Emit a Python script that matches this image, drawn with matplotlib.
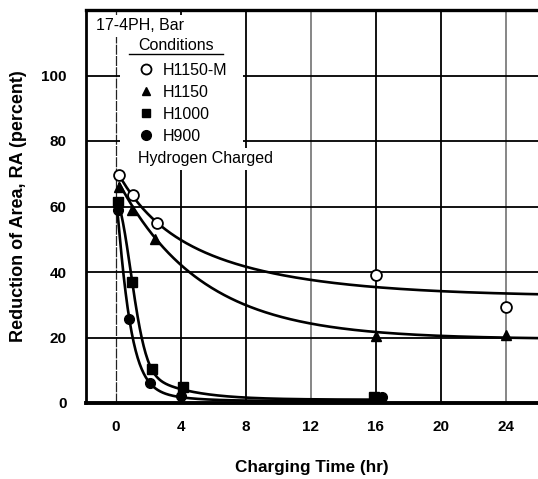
import numpy as np
import matplotlib
matplotlib.use("Agg")
import matplotlib.pyplot as plt
from matplotlib.lines import Line2D
from matplotlib.patches import Rectangle

# --- measured data -------------------------------------------------------
t_h1150m = [0.2, 1.05, 2.55, 16.0, 24.0]
ra_h1150m = [69.5, 63.4, 55.0, 39.0, 29.2]

t_h1150 = [0.2, 1.0, 2.4, 16.0, 24.0]
ra_h1150 = [66.0, 58.8, 50.2, 20.4, 20.7]

t_h1000 = [0.1, 1.0, 2.2, 4.1, 15.9]
ra_h1000 = [61.4, 36.8, 10.3, 4.8, 1.9]

t_h900 = [0.1, 0.82, 2.1, 4.0, 16.4]
ra_h900 = [58.8, 25.6, 6.0, 2.0, 1.9]

labels = ["H1150-M", "H1150", "H1000", "H900"]

# trend-curve parameters: floor, stretched term (amp, scale, power), tail (amp, rate), fast tail (amp, rate)
fit_h1150m = dict(a=32.5, b=0.0, s=1.0, p=1.0, c=27.1, k=0.14, d=11.7, m=0.47)
fit_h1150 = dict(a=19.5, b=0.0, s=1.0, p=1.0, c=49.4, k=0.195, d=0.0, m=1.0)
fit_h1000 = dict(a=1.0, b=45.2, s=1.306, p=2.0, c=16.0, k=0.40, d=0.0, m=1.0)
fit_h900 = dict(a=0.6, b=54.0, s=0.814, p=1.17, c=8.0, k=0.50, d=0.0, m=1.0)

x_ticks = [0, 4, 8, 12, 16, 20, 24]
y_ticks = [0, 20, 40, 60, 80, 100]


def decay(x, a, b, s, p, c, k, d, m):
    return (a + b * np.exp(-(x / s) ** p) + c * np.exp(-k * x)
            + d * np.exp(-m * x))


plt.rcParams["font.family"] = ["Liberation Sans", "DejaVu Sans"]

fig = plt.figure(figsize=(5.38, 4.79), dpi=100)
ax = fig.add_axes([86 / 538, 1 - 403 / 479, 452 / 538, 393 / 479])
ax.set_xlim(-1.85, 26.0)
ax.set_ylim(0, 120)

# trend curves
curve_specs = [
    (t_h1150m, fit_h1150m, 26.0),
    (t_h1150, fit_h1150, 26.0),
    (t_h1000, fit_h1000, 16.5),
    (t_h900, fit_h900, 16.5),
]
for tt, prm, x_end in curve_specs:
    xs = np.linspace(tt[0], x_end, 400)
    ax.plot(xs, decay(xs, **prm), color="black", lw=1.9, zorder=3,
            solid_capstyle="round")

# data markers
mk = dict(ls="none", color="black", zorder=4)
ax.plot(t_h1150m, ra_h1150m, marker="o", ms=7.8, mfc="white",
        mec="black", mew=1.3, label=labels[0], **mk)
ax.plot(t_h1150, ra_h1150, marker="^", ms=6.5, mfc="black",
        label=labels[1], **mk)
ax.plot(t_h1000, ra_h1000, marker="s", ms=6.8, mfc="black",
        label=labels[2], **mk)
ax.plot(t_h900, ra_h900, marker="o", ms=7.0, mfc="black",
        label=labels[3], **mk)

# axes styling
ax.set_xticks(x_ticks)
ax.set_yticks(y_ticks)
ax.tick_params(axis="both", length=0, labelsize=11)
ax.tick_params(axis="x", pad=12)
ax.tick_params(axis="y", pad=14)
for lab in ax.get_xticklabels() + ax.get_yticklabels():
    lab.set_fontweight("bold")

ax.grid(True, color="black", lw=1.3, zorder=1)
ax.set_axisbelow(True)
for val, gl in zip(x_ticks, ax.xaxis.get_gridlines()):
    if val == 0:
        gl.set_color("#222222")
        gl.set_linewidth(0.9)
        gl.set_linestyle((0, (8, 1)))
    elif val in (12, 24):
        gl.set_color("#666666")
        gl.set_linewidth(1.1)

ax.spines["right"].set_visible(False)
ax.spines["left"].set_linewidth(2.0)
ax.spines["bottom"].set_linewidth(2.8)
ax.spines["top"].set_linewidth(2.4)

ax.set_xlabel("Charging Time (hr)", fontsize=12.3, fontweight="bold")
ax.set_ylabel("Reduction of Area, RA (percent)", fontsize=13,
              fontweight="bold")
ax.xaxis.set_label_coords(0.5, -0.163)
ax.yaxis.set_label_coords(-0.150, 0.5)
ax.xaxis.label.set_va("center")
ax.yaxis.label.set_va("center")


def ax_xy(px, py):
    return ((px - 86) / 452, (403 - py) / 393)


# white panel behind the key block
bx0, by0 = ax_xy(120, 148)
bx1, by1 = ax_xy(243, 37)
ax.add_patch(Rectangle((bx0, by0), bx1 - bx0, by1 - by0,
                       transform=ax.transAxes, facecolor="white",
                       edgecolor="none", zorder=2))

white = dict(facecolor="white", edgecolor="none", pad=2.5)
TXT = 11.5

x0, y0 = ax_xy(96, 26)
ax.text(x0, y0, "17-4PH, Bar", transform=ax.transAxes, fontsize=TXT,
        va="center", ha="left", zorder=5, bbox=white)

x0, y0 = ax_xy(138, 45)
ax.text(x0, y0, "Conditions", transform=ax.transAxes, fontsize=TXT,
        va="center", ha="left", zorder=5)
ux0, uy = ax_xy(129, 54)
ux1, _ = ax_xy(223, 54)
ax.plot([ux0, ux1], [uy, uy], transform=ax.transAxes, color="black",
        lw=1.0, zorder=6, clip_on=False)

x0, y0 = ax_xy(138, 159)
ax.text(x0, y0, "Hydrogen Charged", transform=ax.transAxes, fontsize=TXT,
        va="center", ha="left", zorder=5, bbox=white)

leg_handles = [
    Line2D([], [], ls="none", marker="o", ms=7.2, mfc="white", mec="black",
           mew=1.3),
    Line2D([], [], ls="none", marker="^", ms=6.0, color="black"),
    Line2D([], [], ls="none", marker="s", ms=6.2, color="black"),
    Line2D([], [], ls="none", marker="o", ms=7.0, color="black"),
]
lx, ly = ax_xy(136.4, 59.5)
leg = ax.legend(leg_handles, labels, loc="upper left",
                bbox_to_anchor=(lx, ly), bbox_transform=ax.transAxes,
                frameon=False, borderpad=0.2, borderaxespad=0,
                handlelength=0.8, handletextpad=0.66,
                labelspacing=0.44, fontsize=TXT)
leg.set_zorder(5)

fig.savefig("out.png", dpi=100)
